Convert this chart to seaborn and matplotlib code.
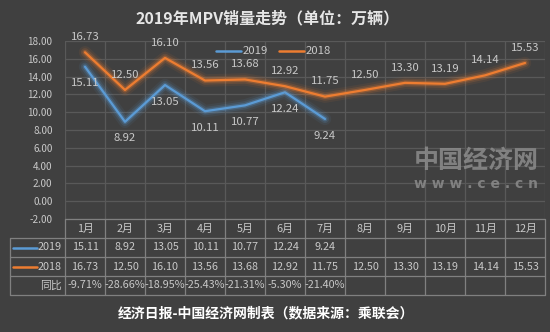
import numpy as np
import pandas as pd
import matplotlib
matplotlib.use("Agg")
import matplotlib.pyplot as plt
import matplotlib.patheffects as pe
import seaborn as sns

# ---- data ----
months = ["1月", "2月", "3月", "4月", "5月", "6月", "7月", "8月", "9月", "10月", "11月", "12月"]
sales_2019 = [15.11, 8.92, 13.05, 10.11, 10.77, 12.24, 9.24]
sales_2018 = [16.73, 12.50, 16.10, 13.56, 13.68, 12.92, 11.75, 12.50, 13.30, 13.19, 14.14, 15.53]
yoy_labels = ["-9.71%", "-28.66%", "-18.95%", "-25.43%", "-21.31%", "-5.30%", "-21.40%"]
series_names = ["2019", "2018"]
y_ticks = [-2, 0, 2, 4, 6, 8, 10, 12, 14, 16, 18]

title = "2019年MPV销量走势（单位：万辆）"
footer = "经济日报-中国经济网制表（数据来源：乘联会）"

# ---- style ----
BG = "#404040"
GRID = "#595959"
TABLE_LINE = "#808080"
TXT = "#c8c8c8"
BLUE = "#5B9BD5"
ORANGE = "#ED7D31"

sns.set_theme(style="dark")
plt.rcParams["font.family"] = ["Noto Sans CJK SC", "DejaVu Sans"]
plt.rcParams["axes.unicode_minus"] = False

W, H = 550, 332
fig = plt.figure(figsize=(W / 100, H / 100), dpi=100, facecolor=BG)

def fbox(x0, y0, x1, y1):
    return [x0 / W, 1 - y1 / H, (x1 - x0) / W, (y1 - y0) / H]

ax = fig.add_axes(fbox(65, 41, 545, 219))
ax.set_facecolor(BG)

df = pd.concat([
    pd.DataFrame({"pos": np.arange(len(sales_2019)), "value": sales_2019, "year": series_names[0]}),
    pd.DataFrame({"pos": np.arange(len(sales_2018)), "value": sales_2018, "year": series_names[1]}),
])
palette = {series_names[0]: BLUE, series_names[1]: ORANGE}
sns.lineplot(data=df, x="pos", y="value", hue="year", palette=palette, linewidth=1.6,
             ax=ax, legend=False, zorder=5)

for line, col in zip(ax.get_lines(), [BLUE, ORANGE]):
    line.set_path_effects([
        pe.Stroke(linewidth=9, foreground=col, alpha=0.08),
        pe.Stroke(linewidth=6, foreground=col, alpha=0.15),
        pe.Stroke(linewidth=3.5, foreground=col, alpha=0.3),
        pe.Normal(),
    ])

ax.set_xlim(-0.5, len(months) - 0.5)
ax.set_ylim(min(y_ticks), max(y_ticks))
ax.set_yticks(y_ticks)
ax.set_yticklabels([f"{v:.2f}" for v in y_ticks], color=TXT, fontsize=7.2)
ax.set_xticks(np.arange(-0.5, len(months) + 0.5, 1.0))
ax.set_xticklabels([])
ax.tick_params(axis="both", length=0, pad=9)
ax.grid(True, color=GRID, linewidth=0.9)
ax.set_axisbelow(True)
ax.set_xlabel("")
ax.set_ylabel("")
for s in ax.spines.values():
    s.set_visible(False)

# data labels
for i, v in enumerate(sales_2018):
    ax.annotate(f"{v:.2f}", (i, v), xytext=(0, 11), textcoords="offset points",
                ha="center", va="center", color=TXT, fontsize=8.2, zorder=6)
for i, v in enumerate(sales_2019):
    ax.annotate(f"{v:.2f}", (i, v), xytext=(0, -12), textcoords="offset points",
                ha="center", va="center", color=TXT, fontsize=8.2, zorder=6)

# legend
ly = 1 - 51 / H
fig.add_artist(plt.Line2D([216 / W, 241 / W], [ly, ly], color=BLUE, linewidth=1.8,
                          transform=fig.transFigure))
fig.text(243 / W, ly, series_names[0], color=TXT, fontsize=8.2, va="center", ha="left")
fig.add_artist(plt.Line2D([279 / W, 304 / W], [ly, ly], color=ORANGE, linewidth=1.8,
                          transform=fig.transFigure))
fig.text(306 / W, ly, series_names[1], color=TXT, fontsize=8.2, va="center", ha="left")

# title / footer / watermark
fig.text(268 / W, 1 - 18 / H, title, color="#e6e6e6", fontsize=11.5, fontweight="bold",
         ha="center", va="center")
fig.text(266 / W, 1 - 313 / H, footer, color="#ffffff", fontsize=10, fontweight="bold",
         ha="center", va="center")
fig.text(476 / W, 1 - 161 / H, "中国经济网", color="#8c8c8c", fontsize=18, fontweight="bold",
         ha="center", va="center", alpha=0.85)
fig.text(476 / W, 1 - 184 / H, "w w w . c e . c n", color="#8c8c8c", fontsize=10, fontweight="bold",
         ha="center", va="center", alpha=0.85, family="DejaVu Sans")

# ---- data table ----
tax = fig.add_axes(fbox(65, 219, 545, 295))
tax.set_xlim(-0.5, len(months) - 0.5)
tax.set_ylim(4, 0)
tax.axis("off")
left = -0.5 - 55 / 40.0
kw = dict(color=TABLE_LINE, linewidth=0.9, clip_on=False)
tax.plot([-0.5, len(months) - 0.5], [0, 0], **kw)
for r in [1, 2, 3, 4]:
    tax.plot([left, len(months) - 0.5], [r, r], **kw)
for c in range(len(months) + 1):
    tax.plot([c - 0.5, c - 0.5], [0, 4], **kw)
tax.plot([left, left], [1, 4], **kw)

tfs = 7.8
for i, m in enumerate(months):
    tax.text(i, 0.5, m, ha="center", va="center", color=TXT, fontsize=tfs)
for i, v in enumerate(sales_2019):
    tax.text(i, 1.5, f"{v:.2f}", ha="center", va="center", color=TXT, fontsize=tfs)
for i, v in enumerate(sales_2018):
    tax.text(i, 2.5, f"{v:.2f}", ha="center", va="center", color=TXT, fontsize=tfs)
for i, s in enumerate(yoy_labels):
    tax.text(i, 3.5, s, ha="center", va="center", color=TXT, fontsize=tfs)

tax.plot([left + 0.07, left + 0.68], [1.5, 1.5], color=BLUE, linewidth=1.8, clip_on=False)
tax.plot([left + 0.07, left + 0.68], [2.5, 2.5], color=ORANGE, linewidth=1.8, clip_on=False)
tax.text(-0.58, 1.5, series_names[0], ha="right", va="center", color=TXT, fontsize=tfs)
tax.text(-0.58, 2.5, series_names[1], ha="right", va="center", color=TXT, fontsize=tfs)
tax.text(-0.58, 3.5, "同比", ha="right", va="center", color=TXT, fontsize=tfs)

fig.savefig("out.png", dpi=100, facecolor=BG)
